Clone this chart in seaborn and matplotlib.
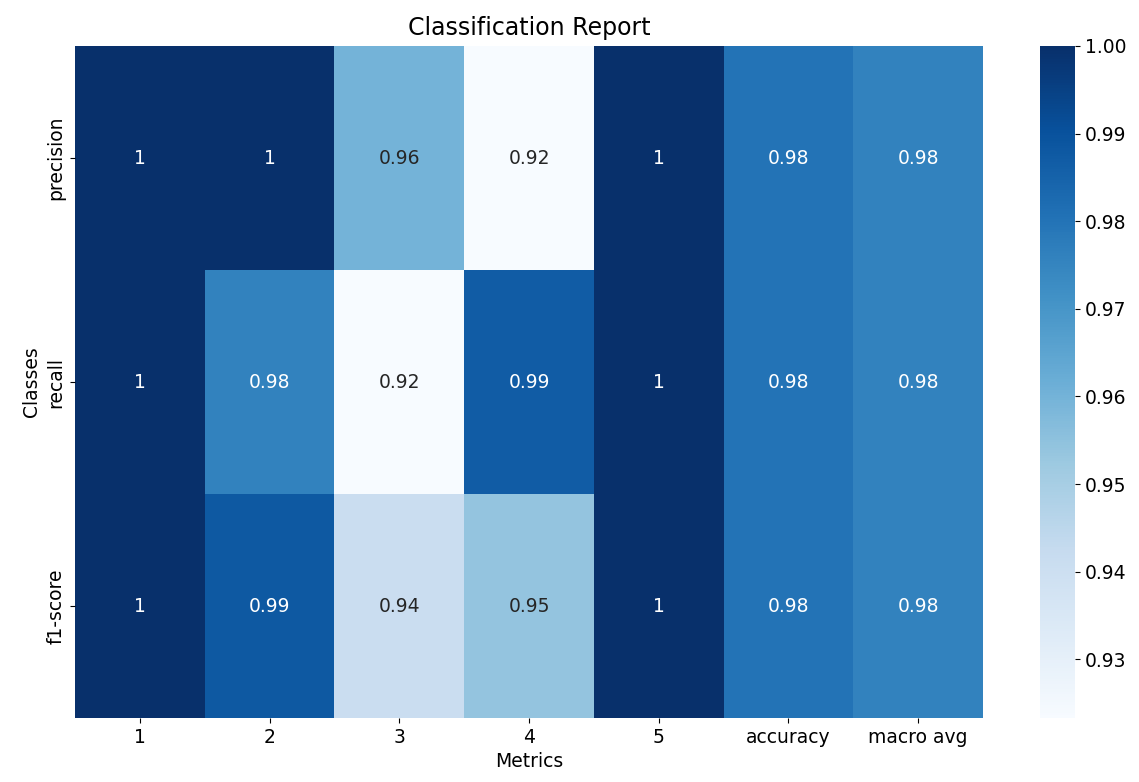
import numpy as np
import pandas as pd
import matplotlib
matplotlib.use("Agg")
import matplotlib.pyplot as plt
import seaborn as sns

# Classification report values
columns = ["1", "2", "3", "4", "5", "accuracy", "macro avg"]
rows = ["precision", "recall", "f1-score"]
precision = [1.0, 1.0, 0.960, 0.9233, 1.0, 0.980, 0.976]
recall = [1.0, 0.976, 0.9233, 0.987, 1.0, 0.980, 0.976]
f1_score = [1.0, 0.988, 0.941, 0.954, 1.0, 0.980, 0.976]

report = pd.DataFrame([precision, recall, f1_score], index=rows, columns=columns)

W, H = 1139, 782
fig = plt.figure(figsize=(W / 100, H / 100), dpi=100)
ax = fig.add_axes([75 / W, 1 - 718 / H, (983 - 75) / W, (718 - 46) / H])
cax = fig.add_axes([1040 / W, 1 - 718 / H, (1075 - 1040) / W, (718 - 46) / H])

sns.heatmap(report, annot=True, cmap="Blues", ax=ax, cbar_ax=cax,
            annot_kws={"fontsize": 13.5})

ax.set_title("Classification Report", fontsize=17, pad=8)
ax.set_xlabel("Metrics", fontsize=13.5, labelpad=4)
ax.set_ylabel("Classes", fontsize=13.5, labelpad=4)
ax.tick_params(labelsize=13.5)
cax.tick_params(labelsize=13.5)

fig.savefig("out.png", dpi=100)
